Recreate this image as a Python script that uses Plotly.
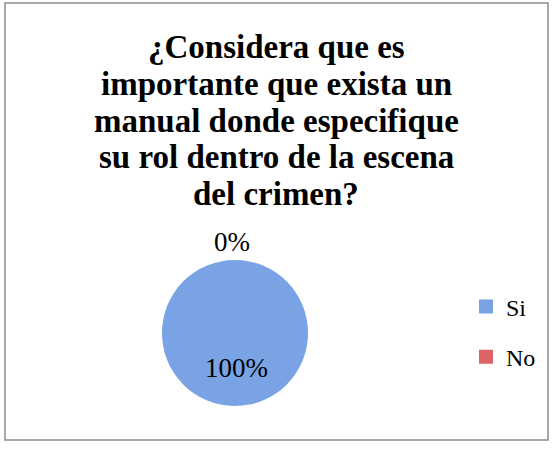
import plotly.graph_objects as go

labels = ["Si", "No"]
values = [100, 0]
colors = ["#79A3E4", "#DC6464"]
title_lines = ["¿Considera que es", "importante que exista un",
               "manual donde especifique", "su rol dentro de la escena",
               "del crimen?"]

W, H = 552, 451
total = sum(values)
pcts = [f"{round(v / total * 100)}%" for v in values]

fig = go.Figure()
fig.add_trace(go.Pie(
    labels=labels, values=values, sort=False, direction="clockwise",
    marker=dict(colors=colors, line=dict(width=0)),
    textinfo="none", hoverinfo="label+percent",
    domain=dict(x=[162 / W, 308 / W], y=[45 / H, 191 / H]),
    showlegend=False,
))
# legend entries (one group per category so they can be spaced apart)
for i, (lab, col) in enumerate(zip(labels, colors)):
    fig.add_trace(go.Scatter(
        x=[None], y=[None], mode="markers", name=lab,
        marker=dict(symbol="square", size=14, color=col),
        legendgroup=f"g{i}", showlegend=True, hoverinfo="skip",
    ))

title_y = [47, 84, 121, 157, 194]
annotations = [
    dict(text="<b>" + line + "</b>", x=276 / W, y=1 - yy / H,
         xref="paper", yref="paper", showarrow=False,
         xanchor="center", yanchor="middle",
         font=dict(size=33, family="Liberation Serif"))
    for line, yy in zip(title_lines, title_y)
]
annotations += [
    dict(text=pcts[1], x=232 / W, y=1 - 242 / H, xref="paper", yref="paper",
         showarrow=False, xanchor="center", yanchor="middle",
         font=dict(size=27, family="Liberation Serif")),
    dict(text=pcts[0], x=236 / W, y=1 - 368 / H, xref="paper", yref="paper",
         showarrow=False, xanchor="center", yanchor="middle",
         font=dict(size=27, family="Liberation Serif")),
]

fig.update_layout(
    width=W, height=H,
    margin=dict(l=0, r=0, t=0, b=0),
    paper_bgcolor="white", plot_bgcolor="white",
    font=dict(family="Liberation Serif", color="black"),
    xaxis=dict(visible=False), yaxis=dict(visible=False),
    legend=dict(x=466 / W, y=1 - 332 / H, xanchor="left", yanchor="middle",
                font=dict(size=24, family="Liberation Serif"),
                itemwidth=30, tracegroupgap=16, bgcolor="rgba(0,0,0,0)"),
    shapes=[dict(type="rect", xref="paper", yref="paper",
                 x0=5 / W, x1=548 / W, y0=1 - 440 / H, y1=1 - 3 / H,
                 line=dict(color="#8C8C8C", width=1.5))],
    annotations=annotations,
)

fig.write_html("out.html", config={"displayModeBar": False},
               post_script="document.body.style.margin='0';")
